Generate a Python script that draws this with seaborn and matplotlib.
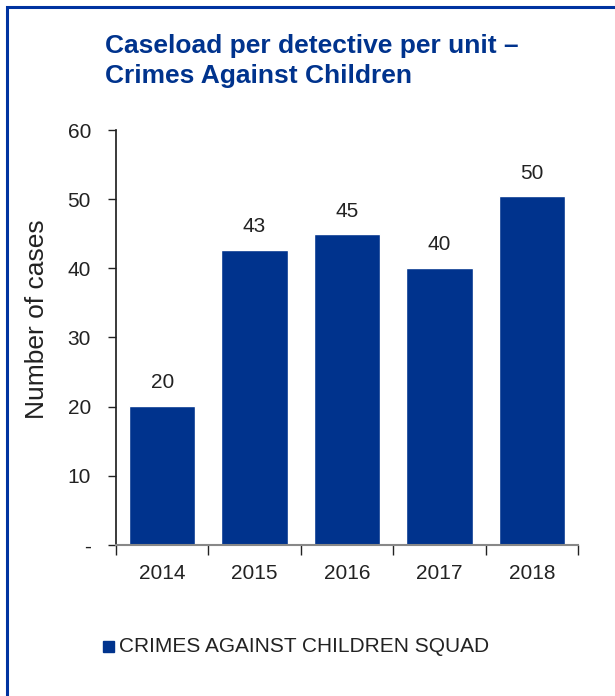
import matplotlib
matplotlib.use('Agg')
import matplotlib.pyplot as plt
import seaborn as sns
import pandas as pd
from matplotlib.patches import Rectangle

years = ['2014', '2015', '2016', '2017', '2018']
cases = [20.1, 42.7, 44.9, 40.1, 50.4]
labels = ['20', '43', '45', '40', '50']
yticks = [0, 10, 20, 30, 40, 50, 60]
ytick_labels = ['-', '10', '20', '30', '40', '50', '60']
series_name = 'CRIMES AGAINST CHILDREN SQUAD'

blue = '#00338D'
ink = '#222222'

sns.set_theme(style='white')
plt.rcParams['font.family'] = ['Liberation Sans', 'DejaVu Sans']

df = pd.DataFrame({'year': years, 'cases': cases})

fig = plt.figure(figsize=(6.15, 6.96), dpi=100)
ax = fig.add_axes([0.1886, 0.2170, 0.7514, 0.5962])

sns.barplot(data=df, x='year', y='cases', color=blue, saturation=1,
            width=0.72, ax=ax)

# value labels above bars
for i, (v, t) in enumerate(zip(cases, labels)):
    ax.text(i, v + 2.0, t, ha='center', va='bottom', fontsize=15, color=ink)

ax.set_ylim(0, 60)
ax.set_xlim(-0.5, 4.5)
ax.set_yticks(yticks)
ax.set_yticklabels(ytick_labels, fontsize=15, color=ink)
ax.tick_params(axis='y', length=6, width=1, direction='out', left=True, pad=12,
               color=ink)
ax.set_xticks(range(len(years)))
ax.set_xticklabels(years, fontsize=15, color=ink)
# ticks between categories
ax.set_xticks([x - 0.5 for x in range(len(years) + 1)], minor=True)
ax.tick_params(axis='x', which='major', length=0, pad=14)
ax.tick_params(axis='x', which='minor', length=7, width=1, bottom=True, color=ink)
ax.set_xlabel('')

ax.set_ylabel('Number of cases', fontsize=19, color=ink, va='center')
ax.yaxis.set_label_coords(-0.171, 0.545)

for s in ['top', 'right']:
    ax.spines[s].set_visible(False)
ax.spines['left'].set_color(ink)
ax.spines['bottom'].set_color('#888888')
ax.spines['bottom'].set_linewidth(1.5)

fig.text(105 / 615, 1 - 61 / 696, 'Caseload per detective per unit –\nCrimes Against Children',
         fontsize=19, fontweight='bold', color=blue, ha='left', va='center',
         linespacing=1.32)

# legend
fig.patches.append(Rectangle((103 / 615, 1 - 652 / 696), 11 / 615, 11 / 696,
                             transform=fig.transFigure, color=blue))
fig.text(119 / 615, 1 - 646 / 696, series_name, fontsize=15, color=ink,
         ha='left', va='center')

# outer frame (left and top edges visible)
fig.patches.append(Rectangle((7 / 615, -0.05), 1.2, 1 - 7 / 696 + 0.05,
                             transform=fig.transFigure, fill=False,
                             edgecolor='#0033A0', linewidth=2.2))

fig.savefig('out.png', dpi=100)
